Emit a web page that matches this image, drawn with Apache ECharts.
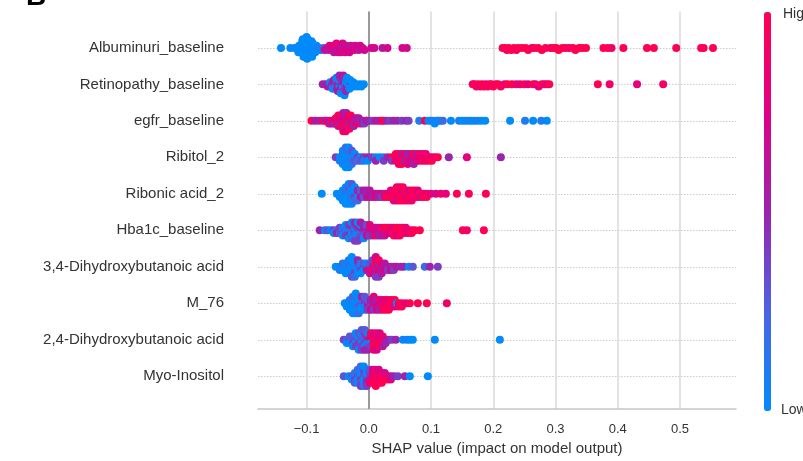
<!DOCTYPE html>
<html>
<head>
<meta charset="utf-8">
<script src="https://cdn.jsdelivr.net/npm/echarts/dist/echarts.min.js"></script>
<style>html,body{margin:0;padding:0;background:#fff}#chart{width:803px;height:461px}</style>
</head>
<body>
<div id="chart"></div>
<script>
// ---------- DATA ----------
const features = ['Albuminuri_baseline','Retinopathy_baseline','egfr_baseline','Ribitol_2','Ribonic acid_2',
  'Hba1c_baseline','3,4-Dihydroxybutanoic acid','M_76','2,4-Dihydroxybutanoic acid','Myo-Inositol'];
const xTicks = [-0.1, 0.0, 0.1, 0.2, 0.3, 0.4, 0.5];
const xTitle = 'SHAP value (impact on model output)';
const colorbarLabels = ['High', 'Low'];
const panelLetter = 'B';

// entries: [SHAP value, feature value 0 (low)..10 (high)]  or  [SHAP value, [feature values of points at that SHAP value]]
const albuminuri = [[-0.141,0],[-0.126,0],[-0.119,0],[-0.116,1],
[-0.114,0],[-0.112,0],[-0.113,0],
[-0.108,0],[-0.107,0],[-0.106,0],[-0.105,0],[-0.106,0],[-0.104,0],[-0.107,0],[-0.105,0],[-0.106,0],
[-0.101,0],[-0.100,0],[-0.099,0],[-0.098,0],[-0.100,0],[-0.099,1],[-0.097,0],[-0.101,0],[-0.098,0],[-0.099,0],[-0.100,0],
[-0.094,0],[-0.093,0],[-0.092,0],[-0.091,1],[-0.090,0],[-0.093,0],[-0.092,0],[-0.091,0],
[-0.087,0],[-0.085,1],[-0.084,0],[-0.086,0],[-0.080,1],[-0.078,0],[-0.073,2],[-0.071,6],
[-0.067,7],[-0.065,6],[-0.063,7],[-0.060,7],[-0.058,7],[-0.057,8],[-0.056,6],
[-0.053,7],[-0.051,6],[-0.050,7],[-0.049,7],[-0.052,8],[-0.046,7],[-0.044,7],[-0.043,6],[-0.045,7],[-0.042,7],
[-0.039,6],[-0.037,7],[-0.036,7],[-0.038,8],[-0.032,7],[-0.030,7],[-0.029,6],[-0.031,7],
[-0.025,7],[-0.023,8],[-0.022,7],[-0.018,7],[-0.016,6],[-0.014,7],[-0.010,7],[-0.007,7],
[0.004,7],[0.009,7],[0.022,6],[0.030,7],[0.054,7],[0.061,7],
[0.215,10],[0.219,10],[0.222,9],[0.225,10],[0.229,10],[0.233,10],[0.237,9],[0.240,10],[0.246,10],[0.252,10],
[0.256,10],[0.262,9],[0.266,10],[0.272,10],[0.278,10],[0.284,10],[0.292,9],[0.297,10],[0.301,10],[0.305,10],
[0.311,10],[0.316,10],[0.322,9],[0.328,10],[0.332,10],[0.338,10],[0.343,10],[0.349,10],
[0.377,10],[0.384,10],[0.390,9],[0.409,10],[0.447,10],[0.458,10],[0.494,10],[0.534,10],[0.538,10],[0.553,10]];

const retinopathy = [[-0.074,5],[-0.069,5],[-0.066,6],[-0.065,5],[-0.063,5],[-0.062,0],
[-0.059,5],[-0.058,4],[-0.057,5],[-0.058,0],[-0.056,6],
[-0.054,5],[-0.053,0],[-0.052,5],[-0.051,6],[-0.053,4],[-0.050,5],[-0.052,0],
[-0.048,5],[-0.047,0],[-0.046,5],[-0.045,5],[-0.047,0],[-0.048,6],[-0.046,4],[-0.045,0],[-0.047,5],
[-0.043,5],[-0.042,0],[-0.041,5],[-0.040,0],[-0.042,5],[-0.041,4],[-0.043,5],[-0.040,0],[-0.041,6],[-0.039,0],
[-0.037,0],[-0.036,5],[-0.035,0],[-0.034,4],[-0.036,0],[-0.037,5],[-0.035,0],
[-0.032,0],[-0.030,0],[-0.029,5],[-0.031,0],[-0.030,0],[-0.026,0],[-0.024,0],[-0.025,0],
[-0.020,0],[-0.018,0],[-0.014,0],[-0.012,0],[-0.008,0],
[0.167,10],[0.170,9],[0.173,10],[0.176,10],[0.179,8],[0.182,10],[0.185,10],[0.188,9],[0.191,10],[0.194,8],
[0.197,10],[0.200,10],[0.204,9],[0.208,10],[0.212,10],[0.218,8],[0.223,10],[0.230,10],[0.237,9],[0.243,8],
[0.250,10],[0.256,8],[0.264,10],[0.268,9],[0.273,8],[0.278,10],[0.282,9],[0.286,8],[0.290,10],
[0.368,10],[0.387,9],[0.431,8],[0.473,9]];

const egfr = [[-0.092,10],[-0.086,6],[-0.080,5],[-0.074,10],[-0.070,5],[-0.067,8],
[-0.064,10],[-0.063,6],[-0.061,5],[-0.059,10],[-0.057,7],[-0.056,8],[-0.055,5],
[-0.053,10],[-0.052,6],[-0.051,10],[-0.052,8],[-0.049,6],[-0.048,10],[-0.047,5],[-0.048,8],[-0.049,10],
[-0.045,10],[-0.044,6],[-0.043,10],[-0.044,6],[-0.045,7],[-0.043,9],[-0.044,10],
[-0.041,10],[-0.040,6],[-0.039,10],[-0.040,7],[-0.041,5],[-0.039,10],[-0.040,8],[-0.041,10],[-0.039,6],
[-0.037,10],[-0.036,8],[-0.035,6],[-0.036,9],[-0.037,6],[-0.035,10],[-0.036,5],[-0.037,8],
[-0.033,9],[-0.032,10],[-0.031,6],[-0.032,5],[-0.033,8],[-0.031,10],
[-0.029,8],[-0.028,6],[-0.027,5],[-0.028,9],[-0.029,10],[-0.025,6],[-0.024,10],[-0.023,8],[-0.024,5],
[-0.021,5],[-0.020,8],[-0.019,6],[-0.017,5],[-0.015,9],[-0.016,6],[-0.013,5],[-0.011,6],
[-0.009,5],[-0.007,4],[-0.004,5],[-0.003,6],
[0.001,5],[0.006,4],[0.011,6],[0.016,5],[0.021,9],[0.024,10],[0.029,5],[0.034,4],[0.040,5],[0.046,5],[0.053,4],[0.060,5],[0.064,4],
[0.081,1],[0.090,10],[0.096,0],[0.100,0],[0.103,1],[0.106,0],[0.109,0],[0.112,1],[0.115,0],[0.119,2],
[0.132,0],[0.145,1],[0.150,0],[0.155,0],[0.160,1],[0.165,0],[0.170,0],[0.175,1],[0.181,0],[0.187,0],
[0.227,0],[0.251,1],[0.264,0],[0.277,1],[0.286,0]];

const ribitol = [[-0.0531,[4]],[-0.0466,[0,1]],[-0.0418,[0,0,1,0,0]],[-0.0370,[0,0,0,1,0,0,2]],
[-0.0322,[0,1,0,0,2,0,0]],[-0.0273,[0,2,0,1,3]],[-0.0225,[1,3,0]],[-0.0177,[4,2]],[-0.0129,[0,3]],
[-0.0080,[4,1]],[-0.0016,[5,0]],[0.0048,[4]],[0.0113,[1,5]],[0.0177,[0]],[0.0241,[1,4]],[0.0305,[5]],
[0.0370,[10,4]],[0.0434,[10,9,10]],[0.0482,[10,8,10,9]],[0.0531,[9,10,6,10]],[0.0579,[10,5,9]],
[0.0627,[6,10,5,8]],[0.0675,[5,7,6]],[0.0723,[9,6,10,5]],[0.0772,[10,8,6]],[0.0820,[10,7,9]],
[0.0868,[8,10,9]],[0.0916,[10,9,8]],[0.0965,[10,9]],[0.1013,[8,10]],[0.1061,[9]],[0.1109,[10]],
[0.1286,[5]],[0.1576,[8]],[0.2122,[5]]];

const ribonic = [[-0.0756,[0]],[-0.0514,[0]],[-0.0466,[0,0]],[-0.0418,[0,1,0,0]],[-0.0370,[0,0,2,0,1,0]],
[-0.0322,[0,0,1,0,3,0,0]],[-0.0273,[0,2,0,1,0,0,3]],[-0.0225,[1,4,0,2,0]],[-0.0177,[3,0,5,2]],
[-0.0129,[4,6,3]],[-0.0080,[5,3,6]],[-0.0032,[4,6,5]],[0.0016,[5,7,6]],[0.0064,[6,5]],[0.0113,[7,8]],
[0.0161,[6,5]],[0.0209,[8,4]],[0.0257,[6,9]],[0.0305,[8,10]],[0.0354,[9,10,8]],[0.0402,[10,10,8,9]],
[0.0450,[10,9,10,7,10]],[0.0498,[10,8,10,10,9]],[0.0547,[9,10,7,10,10]],[0.0595,[10,8,10,9]],
[0.0643,[10,10,7,9]],[0.0691,[8,10,10,9]],[0.0740,[10,8,10]],[0.0788,[9,10,8]],[0.0836,[10,7]],
[0.0884,[9,10]],[0.0932,[8,10]],[0.0997,[8]],[0.1077,[7]],[0.1158,[9]],[0.1238,[8]],
[0.1415,[10]],[0.1608,[10]],[0.1881,[10]]];

const hba1c = [[-0.0788,[5]],[-0.0707,[1]],[-0.0659,[3]],[-0.0611,[0]],[-0.0563,[4,0]],[-0.0514,[2,5]],
[-0.0466,[0,3,4]],[-0.0418,[0,4,1,0]],[-0.0370,[5,0,2,4,0]],[-0.0322,[0,3,0,5,4,0]],
[-0.0273,[4,0,3,0,5,2,0]],[-0.0225,[0,4,0,2,3,0,5,4]],[-0.0177,[3,0,4,0,5,2,0,4]],
[-0.0129,[4,0,5,3,0,4,6]],[-0.0080,[5,4,6,3,5,0]],[-0.0032,[6,4,5,7,3]],[0.0016,[6,5,7,4,8]],
[0.0064,[7,6,8,5]],[0.0113,[6,8,7,9]],[0.0161,[8,6,7,5]],[0.0209,[7,9,8,6]],[0.0257,[8,7,10,6]],
[0.0305,[9,8,10]],[0.0354,[10,7,9]],[0.0402,[9,10,8,10]],[0.0450,[10,9,10,8]],[0.0498,[10,8,10,9]],
[0.0547,[9,10,10]],[0.0595,[10,9,8]],[0.0643,[10,8]],[0.0691,[9,10]],[0.0740,[10]],[0.0820,[10]],
[0.1511,[10]],[0.1576,[9]],[0.1849,[10]]];

const dihydroxy34 = [[-0.0531,[0]],[-0.0466,[0,1]],[-0.0418,[0,0,2]],[-0.0370,[0,1,0,0]],[-0.0322,[0,0,2,0,1]],
[-0.0273,[0,0,1,0,0,3,0]],[-0.0225,[0,1,0,4,0,2]],[-0.0177,[1,0,3,0,5]],[-0.0129,[0,4,1,0]],
[-0.0080,[5,0,3]],[-0.0032,[4,6,0]],[0.0016,[5,8,3,6]],[0.0064,[7,10,5,8,4]],[0.0113,[8,5,10,6,9,4,7]],
[0.0161,[6,9,5,8,10,4]],[0.0209,[7,5,8,6]],[0.0257,[5,7,6]],[0.0305,[6,4]],[0.0354,[5,7]],[0.0402,[5,4]],
[0.0450,[6]],[0.0514,[5]],[0.0563,[5]],[0.0643,[0]],[0.0707,[3]],[0.0900,[2]],[0.0981,[5]],[0.1109,[4]]];

const m76 = [[-0.0386,[0]],[-0.0354,[0,0]],[-0.0305,[0,0,1,0]],[-0.0257,[0,0,1,0,2,0]],[-0.0209,[0,1,0,0,2,0,0]],
[-0.0161,[0,3,0,1,0,2]],[-0.0113,[4,0,2,0,5]],[-0.0064,[5,1,4,0,3]],[-0.0016,[5,6,3,4]],[0.0032,[6,4,5,7]],
[0.0080,[5,7,6,4,8]],[0.0129,[6,8,5,7]],[0.0177,[7,6,9,5]],[0.0225,[8,10,7,9]],[0.0273,[10,8,9,10]],
[0.0322,[9,10,8,10]],[0.0370,[10,9,10]],[0.0418,[10,8,10]],[0.0450,[0]],[0.0482,[10,9]],[0.0531,[10,10]],
[0.0595,[8]],[0.0659,[10]],[0.0788,[10]],[0.0932,[10]],[0.1254,[9]]];

const dihydroxy24 = [[-0.0402,[4]],[-0.0354,[3,0]],[-0.0305,[4,0,3]],[-0.0257,[0,4,3,0]],[-0.0209,[4,0,3,4,0]],
[-0.0161,[3,4,0,4,3,0]],[-0.0113,[4,0,3,4,0,4,3]],[-0.0064,[0,4,3,0,4,5,3]],[-0.0016,[4,0,6,3,0,5]],
[0.0032,[7,0,9,4,10]],[0.0080,[10,8,9,10,7,9]],[0.0129,[9,10,8,10,9,7]],[0.0177,[10,9,8,10,7]],
[0.0225,[8,10,9,6]],[0.0273,[7,5]],[0.0322,[5]],[0.0370,[4]],[0.0434,[5]],[0.0547,[0]],[0.0611,[1]],
[0.0659,[0]],[0.0707,[0]],[0.1061,[0]],[0.2106,[0]]];

const myoInositol = [[-0.0402,[3]],[-0.0322,[0]],[-0.0273,[3,0]],[-0.0225,[0,4,1,3]],[-0.0177,[4,0,3,0,2]],
[-0.0129,[0,4,0,3,0,4,2]],[-0.0080,[4,0,3,0,4,2,0]],[-0.0032,[3,4,0,5,0,4]],[0.0016,[0,6,4,8,3]],
[0.0064,[10,8,9,10,7]],[0.0113,[9,10,8,10,9,10]],[0.0161,[10,8,10,9,7]],[0.0209,[8,10,9,10]],
[0.0257,[9,10,7]],[0.0305,[8,10]],[0.0354,[6,8]],[0.0402,[5]],[0.0466,[4]],[0.0579,[5]],[0.0659,[0]],[0.0949,[0]]];

const rows = [albuminuri, retinopathy, egfr, ribitol, ribonic, hba1c, dihydroxy34, m76, dihydroxy24, myoInositol];

function expand(row) {
  const out = [];
  row.forEach(g => Array.isArray(g[1]) ? g[1].forEach(c => out.push([g[0], c])) : out.push(g));
  return out;
}

// SHAP-style beeswarm: quantize into 100 bins, stack alternately up/down within a bin
function swarmOffsets(xs) {
  const nbins = 100, mn = Math.min(...xs), mx = Math.max(...xs);
  const quant = xs.map(v => Math.round(nbins * (v - mn) / (mx - mn + 1e-8)));
  const inds = xs.map((_, i) => i).sort((a, b) => quant[a] - quant[b] || a - b);
  const ys = new Array(xs.length).fill(0);
  let layer = 0, last = -1;
  for (const i of inds) {
    if (quant[i] !== last) layer = 0;
    ys[i] = Math.ceil(layer / 2) * ((layer % 2) * 2 - 1);
    layer++; last = quant[i];
  }
  const m = Math.max(...ys.map(y => y + 1));
  return ys.map(y => y * 0.9 * 0.4 / m);
}

const points = [];
rows.forEach((raw, r) => {
  const row = expand(raw);
  const offs = swarmOffsets(row.map(p => p[0]));
  row.forEach((p, i) => points.push([p[0], r + offs[i], p[1]]));
});

const FONT = '"Liberation Sans", Arial, sans-serif';
const chart = echarts.init(document.getElementById('chart'), null, {renderer: 'canvas'});
chart.setOption({
  animation: false,
  textStyle: {fontFamily: FONT},
  grid: {left: 258, right: 67, top: 11.4, bottom: 51},
  xAxis: {
    type: 'value', min: -0.178, max: 0.59, minInterval: 0.1, maxInterval: 0.1,
    axisLine: {show: true, onZero: false, lineStyle: {color: '#c6c6c6', width: 1.5}},
    axisTick: {show: false},
    axisLabel: {
      color: '#333', fontSize: 13, margin: 14, fontFamily: FONT,
      showMinLabel: false, showMaxLabel: false,
      formatter: v => {
        const t = xTicks.find(t => Math.abs(t - v) < 1e-6);
        if (t === undefined) return '';
        return t < 0 ? '\u2212' + Math.abs(t).toFixed(1) : t.toFixed(1);
      }
    },
    splitLine: {show: true, showMinLine: false, showMaxLine: false, lineStyle: {color: '#dadada', width: 1.5}},
    name: xTitle, nameLocation: 'middle', nameGap: 30,
    nameTextStyle: {color: '#333', fontSize: 15, fontFamily: FONT}
  },
  yAxis: {
    type: 'value', inverse: true, min: -1, max: 9.9, interval: 1,
    axisLine: {show: false}, axisTick: {show: false},
    axisLabel: {
      color: '#333', fontSize: 15, margin: 34, fontFamily: FONT,
      showMinLabel: false, showMaxLabel: false,
      formatter: v => (Number.isInteger(v) && v >= 0 && v < features.length) ? features[v] : ''
    },
    splitLine: {show: true, showMinLine: false, showMaxLine: false, lineStyle: {color: '#cccccc', width: 1.2, type: [1.5, 1.5]}}
  },
  visualMap: {
    type: 'continuous', min: 0, max: 10, dimension: 2, seriesIndex: 0,
    orient: 'vertical', left: 764, top: 12, itemWidth: 7, itemHeight: 399,
    calculable: false, padding: 0, hoverLink: false, showLabel: false,
    inRange: {color: ['#008bfb', '#4b63e3', '#9b23ad', '#e00086', '#ff0052']}
  },
  graphic: [
    {type: 'text', left: 783, top: 7, style: {text: colorbarLabels[0], fill: '#333', font: '14px ' + FONT}},
    {type: 'text', left: 781, top: 403, style: {text: colorbarLabels[1], fill: '#333', font: '14px ' + FONT}},
    {type: 'text', left: 26, top: -17, style: {text: panelLetter, fill: '#000', font: 'bold 28px ' + FONT}}
  ],
  series: [{
    type: 'scatter', data: points, symbolSize: 8, z: 2,
    itemStyle: {opacity: 1},
    markLine: {
      silent: true, symbol: 'none', z: 1, animation: false,
      label: {show: false},
      lineStyle: {color: '#999999', width: 2, type: 'solid'},
      data: [{xAxis: 0}]
    }
  }]
});
</script>
</body>
</html>
